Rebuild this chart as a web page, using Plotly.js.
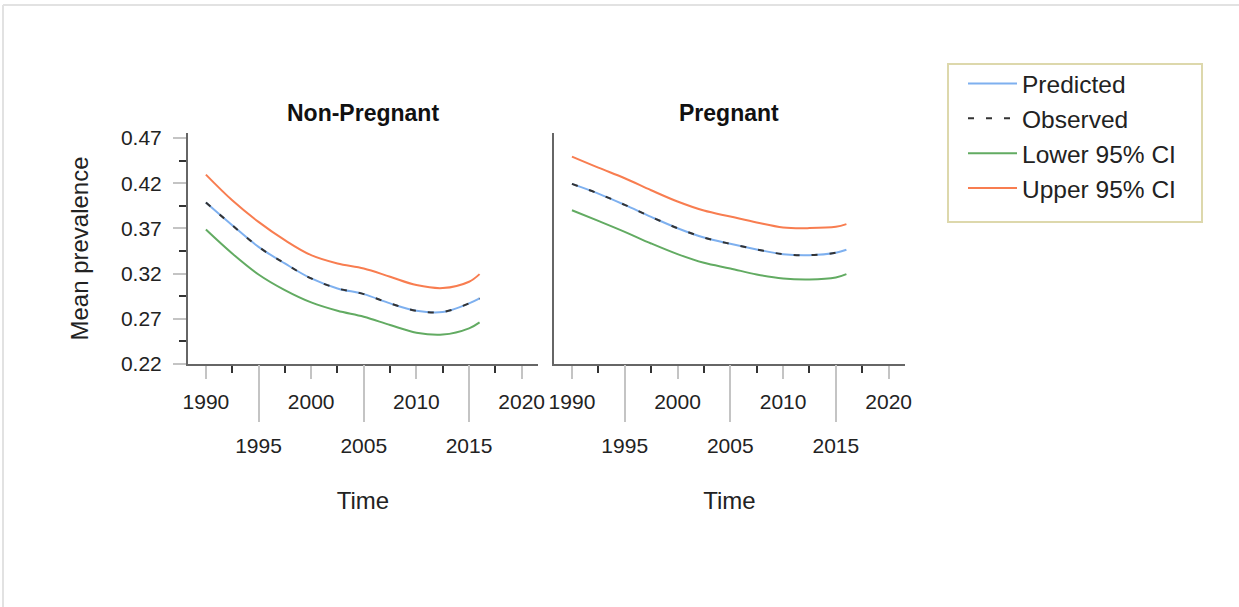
<!DOCTYPE html>
<html>
<head>
<meta charset="utf-8">
<script src="https://cdn.plot.ly/plotly-3.0.1.min.js"></script>
<style>html,body{margin:0;padding:0;background:#fff;}#chart{width:1239px;height:607px;}</style>
</head>
<body>
<div id="chart"></div>
<script>
// ---- data ----
const years = [1990, 1992.5, 1995, 1997.5, 2000, 2002.5, 2005, 2007.5, 2010, 2012.5, 2015, 2016];
const npPredicted = [0.3986, 0.3735, 0.3496, 0.3312, 0.3146, 0.3036, 0.2973, 0.2870, 0.2789, 0.2775, 0.2870, 0.2925];
const npObserved  = [0.3986, 0.3735, 0.3496, 0.3312, 0.3146, 0.3036, 0.2973, 0.2870, 0.2789, 0.2775, 0.2870, 0.2925];
const npLower     = [0.3687, 0.3422, 0.3190, 0.3017, 0.2881, 0.2789, 0.2723, 0.2631, 0.2546, 0.2525, 0.2594, 0.2660];
const npUpper     = [0.4295, 0.4011, 0.3772, 0.3570, 0.3404, 0.3312, 0.3257, 0.3165, 0.3073, 0.3040, 0.3110, 0.3194];
const pPredicted  = [0.4192, 0.4085, 0.3960, 0.3827, 0.3702, 0.3599, 0.3529, 0.3467, 0.3415, 0.3404, 0.3430, 0.3463];
const pObserved   = [0.4192, 0.4085, 0.3960, 0.3827, 0.3702, 0.3599, 0.3529, 0.3467, 0.3415, 0.3404, 0.3430, 0.3463];
const pLower      = [0.3901, 0.3783, 0.3662, 0.3533, 0.3415, 0.3319, 0.3257, 0.3190, 0.3146, 0.3135, 0.3157, 0.3194];
const pUpper      = [0.4494, 0.4372, 0.4255, 0.4122, 0.3997, 0.3897, 0.3831, 0.3765, 0.3710, 0.3703, 0.3717, 0.3747];

const panelTitles = ["Non-Pregnant", "Pregnant"];
const seriesNames = ["Predicted", "Observed", "Lower 95% CI", "Upper 95% CI"];
const xTicksA = [1990, 2000, 2010, 2020];
const xTicksB = [1995, 2005, 2015];
const xMinor = [1992.5, 1997.5, 2002.5, 2007.5, 2012.5, 2017.5];
const yTicks = [0.22, 0.27, 0.32, 0.37, 0.42, 0.47];
const yMinor = [0.245, 0.295, 0.345, 0.395, 0.445];
const yTitle = "Mean prevalence";
const xTitle = "Time";

// ---- styling ----
const FONT = "Liberation Sans, Arial, sans-serif";
const colors = {Predicted: "#7eb0ef", Observed: "#333333", Lower: "#62ab62", Upper: "#f87d50"};
const DASH = "6px,12px";
const W = 1239, H = 607;
const px = v => v / W, py = v => 1 - v / H;

function series(x, y, name, color, dash, xa, ya, show) {
  return {x: x, y: y, name: name, type: "scatter", mode: "lines", xaxis: xa, yaxis: ya,
    line: {color: color, width: 2, dash: dash, shape: "spline", smoothing: 1},
    showlegend: show, legendgroup: name, hoverinfo: "x+y+name"};
}
// invisible helper traces so the overlaid (staggered-label) axes get drawn
function helper(xa, ya, yv) {
  return {x: [years[0]], y: [yv], xaxis: xa, yaxis: ya, type: "scatter", mode: "markers",
    marker: {opacity: 0, size: 1}, showlegend: false, hoverinfo: "skip"};
}

const traces = [
  series(years, npPredicted, seriesNames[0], colors.Predicted, "solid", "x", "y", true),
  series(years, npObserved, seriesNames[1], colors.Observed, DASH, "x", "y", true),
  series(years, npLower, seriesNames[2], colors.Lower, "solid", "x", "y", true),
  series(years, npUpper, seriesNames[3], colors.Upper, "solid", "x", "y", true),
  series(years, pPredicted, seriesNames[0], colors.Predicted, "solid", "x2", "y2", false),
  series(years, pObserved, seriesNames[1], colors.Observed, DASH, "x2", "y2", false),
  series(years, pLower, seriesNames[2], colors.Lower, "solid", "x2", "y2", false),
  series(years, pUpper, seriesNames[3], colors.Upper, "solid", "x2", "y2", false),
  helper("x3", "y", npPredicted[0]),
  helper("x4", "y2", pPredicted[0])
];

const xRange = [1988.3, 2021.55];
const yRange = [0.22, 0.4755];
const domL = [px(188), px(538)], domR = [px(554), px(905)];
const domY = [py(364), py(133)];
const tickFont = {family: FONT, size: 21, color: "#222"};

function xMain(dom, anchor) {
  return {domain: dom, range: xRange, anchor: anchor, showline: true, linecolor: "#666", linewidth: 2,
    showgrid: false, zeroline: false, tickmode: "array", tickvals: xTicksA, ticktext: xTicksA.map(String),
    ticks: "outside", ticklen: 13, tickwidth: 2, tickcolor: "#c4c4c4", tickfont: tickFont, ticklabelstandoff: 5,
    minor: {tickmode: "array", tickvals: xMinor, ticks: "outside", ticklen: 7, tickwidth: 2, tickcolor: "#333", showgrid: false}};
}
function xLong(dom, over) {
  return {domain: dom, range: xRange, overlaying: over, anchor: over === "x" ? "y" : "y2", side: "bottom",
    showline: false, showgrid: false, zeroline: false, tickmode: "array", tickvals: xTicksB, ticktext: xTicksB.map(String),
    ticks: "outside", ticklen: 57, tickwidth: 2, tickcolor: "#c4c4c4", tickfont: tickFont, ticklabelstandoff: 6,
    title: {text: xTitle, font: {family: FONT, size: 24, color: "#222"}, standoff: 35}, automargin: false};
}

const layout = {
  width: W, height: H, margin: {l: 0, r: 0, t: 0, b: 0}, paper_bgcolor: "#fff", plot_bgcolor: "#fff",
  font: {family: FONT, color: "#222"},
  xaxis: xMain(domL, "y"),
  xaxis2: xMain(domR, "y2"),
  xaxis3: xLong(domL, "x"),
  xaxis4: xLong(domR, "x2"),
  yaxis: {domain: domY, range: yRange, anchor: "x", showline: true, linecolor: "#666", linewidth: 2,
    showgrid: false, zeroline: false, tickmode: "array", tickvals: yTicks, ticktext: yTicks.map(v => v.toFixed(2)),
    ticks: "outside", ticklen: 13, tickwidth: 2, tickcolor: "#c4c4c4", tickfont: tickFont, ticklabelstandoff: 7,
    minor: {tickmode: "array", tickvals: yMinor, ticks: "outside", ticklen: 7, tickwidth: 2, tickcolor: "#333", showgrid: false},
    title: {text: yTitle, font: {family: FONT, size: 24, color: "#222"}, standoff: 26}, automargin: false},
  yaxis2: {domain: domY, range: yRange, anchor: "x2", showline: true, linecolor: "#666", linewidth: 2,
    showgrid: false, zeroline: false, showticklabels: false, ticks: ""},
  legend: {x: px(963), y: py(61), xanchor: "left", yanchor: "top", bgcolor: "rgba(0,0,0,0)", borderwidth: 0,
    font: {family: FONT, size: 24.5, color: "#222"}, itemwidth: 49, tracegroupgap: 0, itemclick: false},
  annotations: [
    {text: "<b>" + panelTitles[0] + "</b>", xref: "paper", yref: "paper", x: px(363), y: py(113), showarrow: false,
      xanchor: "center", yanchor: "middle", font: {family: FONT, size: 23, color: "#111"}},
    {text: "<b>" + panelTitles[1] + "</b>", xref: "paper", yref: "paper", x: px(729), y: py(113), showarrow: false,
      xanchor: "center", yanchor: "middle", font: {family: FONT, size: 23, color: "#111"}}
  ],
  shapes: [
    {type: "line", xref: "paper", yref: "paper", x0: px(3), x1: 1, y0: py(5), y1: py(5), line: {color: "#e2e2e2", width: 2}},
    {type: "line", xref: "paper", yref: "paper", x0: px(3), x1: px(3), y0: 0, y1: py(5), line: {color: "#e2e2e2", width: 2}},
    {type: "rect", xref: "paper", yref: "paper", x0: px(948), x1: px(1202), y0: py(222), y1: py(64), line: {color: "#ddd8ac", width: 2}}
  ],
  showlegend: true
};

Plotly.newPlot("chart", traces, layout, {displayModeBar: false, staticPlot: true});
</script>
</body>
</html>
